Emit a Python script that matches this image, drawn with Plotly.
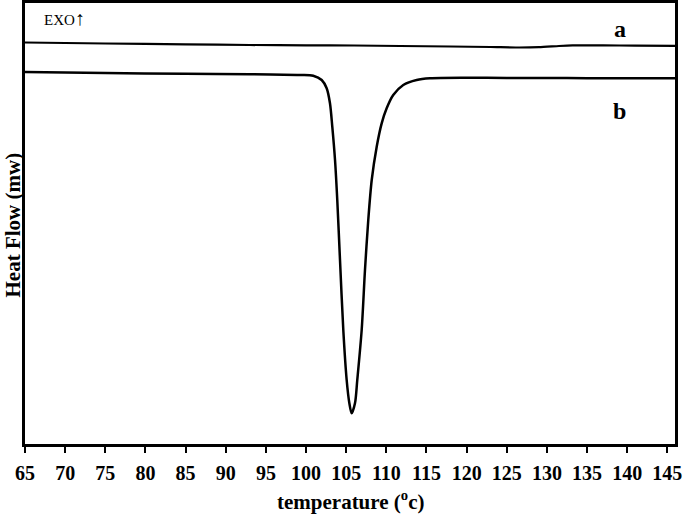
import plotly.graph_objects as go

# DSC curves (heat flow in arbitrary mW units)
temp_a = [65, 75, 85, 93.0, 100, 106, 111.7, 118, 123, 126.3, 129.0, 131.5, 133.2, 137, 141, 146]
flow_a = [40.15, 40.05, 39.97, 39.9, 39.87, 39.85, 39.8, 39.75, 39.7, 39.65, 39.68, 39.8, 39.86, 39.86, 39.84, 39.82]

temp_b = [65, 75, 85, 93, 99.25, 100.9, 101.95, 102.57, 102.98, 103.27, 103.61, 103.89, 104.23,
          104.64, 105.06, 105.39, 105.68, 106.1, 106.38, 106.93, 107.34, 107.75, 108.18, 108.8,
          109.42, 110.04, 110.86, 112.11, 113.78, 115.44, 120, 125, 130, 135, 140, 146]
flow_b = [37.2, 37.1, 37.02, 36.98, 36.9, 36.83, 36.4, 35.57, 34.07, 31.73, 28.4, 24.4, 18.4,
          11.4, 6.4, 4.1, 3.07, 4.1, 6.4, 11.4, 17.4, 22.4, 26.4, 29.73,
          32.07, 33.57, 34.9, 35.9, 36.4, 36.57, 36.62, 36.6, 36.6, 36.58, 36.58, 36.57]

x_ticks = list(range(65, 150, 5))
x_labels = ["<b>%d</b>" % t for t in x_ticks]

serif = "Liberation Serif, Times New Roman, serif"

fig = go.Figure()
fig.add_trace(go.Scatter(x=temp_a, y=flow_a, mode="lines",
                         line=dict(color="black", width=2.2, shape="spline", smoothing=0.6)))
fig.add_trace(go.Scatter(x=temp_b, y=flow_b, mode="lines",
                         line=dict(color="black", width=2.5, shape="spline", smoothing=0.8)))

fig.update_layout(
    width=685, height=514,
    margin=dict(l=25, r=10, t=3, b=70),
    plot_bgcolor="white", paper_bgcolor="white",
    showlegend=False,
    font=dict(family=serif, color="black"),
)
fig.update_xaxes(
    range=[65, 145.95], tickvals=x_ticks, ticktext=x_labels, ticks="outside", ticklen=6, tickwidth=2,
    tickcolor="black", showline=True, linewidth=3, linecolor="black", mirror=True, showgrid=False,
    zeroline=False, automargin=False, ticklabelstandoff=3,
    tickfont=dict(size=20, family=serif, color="black"),
)
fig.update_yaxes(
    range=[0, 44.1], showticklabels=False, ticks="", automargin=False,
    showline=True, linewidth=3, linecolor="black", mirror=True, showgrid=False, zeroline=False,
)

# axis titles
fig.add_annotation(x=0.5, y=0, xref="paper", yref="paper", yanchor="middle", yshift=-56,
                   text="<b>temperature (<sup>o</sup>c)</b>", showarrow=False,
                   font=dict(size=21, family=serif))
fig.add_annotation(x=0, y=0.5, xref="paper", yref="paper", xanchor="center", yanchor="middle",
                   xshift=-13, yshift=-2, text="<b>Heat Flow (mw)</b>", textangle=-90, showarrow=False,
                   font=dict(size=21, family=serif))

fig.add_annotation(x=0.026, y=0.965, xref="paper", yref="paper", xanchor="left", yanchor="middle",
                   text="EXO<span style='font-size:20px'>\u2191</span>", showarrow=False,
                   font=dict(size=15, family=serif))
fig.add_annotation(x=0.915, y=0.94, xref="paper", yref="paper", xanchor="center", yanchor="middle",
                   showarrow=False, text="<b>a</b>", font=dict(size=24, family=serif))
fig.add_annotation(x=0.915, y=0.755, xref="paper", yref="paper", xanchor="center", yanchor="middle",
                   showarrow=False, text="<b>b</b>", font=dict(size=24, family=serif))

# the browser's default body margin would push the figure off the window
fig.write_html("out.html", config={"displayModeBar": False},
               post_script="document.body.style.margin='0';")
